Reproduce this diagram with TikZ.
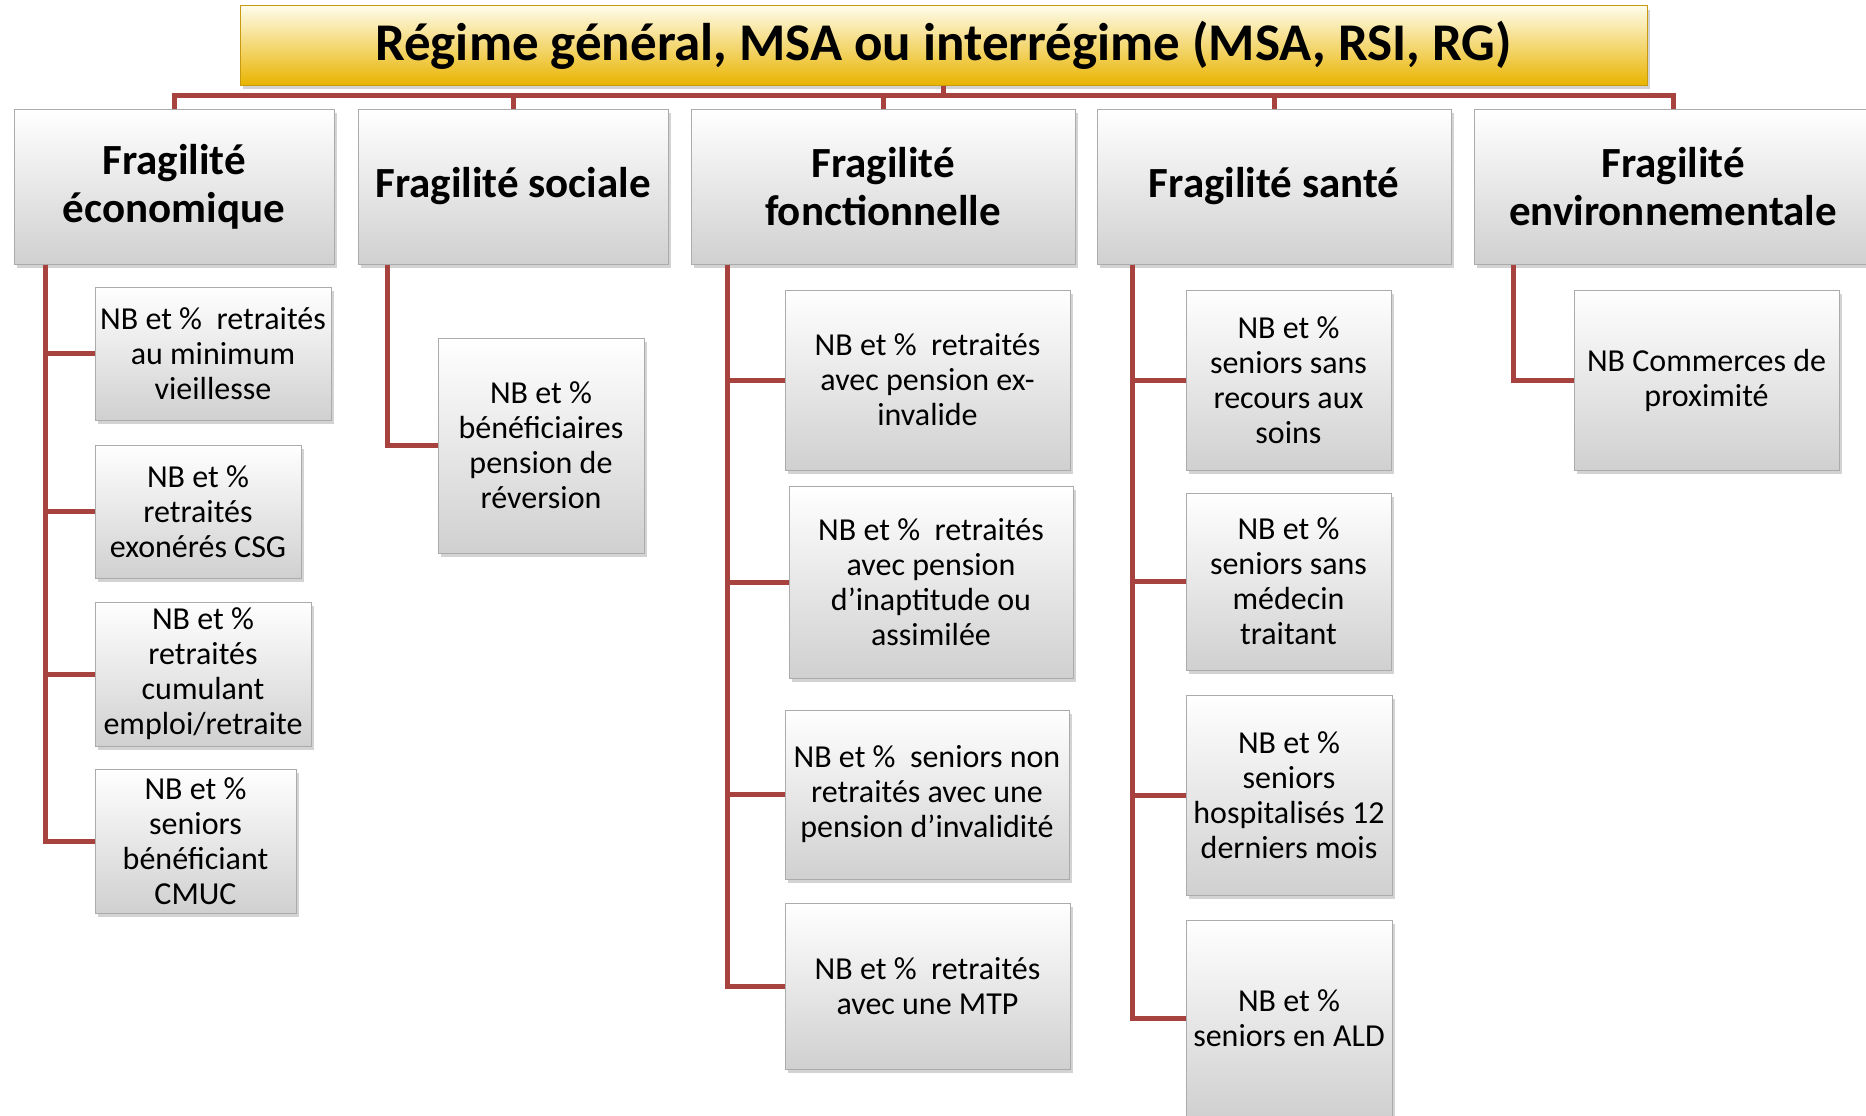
\documentclass[tikz,border=0pt]{standalone}
\usepackage{fontspec}
\setmainfont{Carlito}
\usetikzlibrary{shadows}
\definecolor{lienRouge}{HTML}{A8423F}
\definecolor{boiteGris}{HTML}{D0D0D0}
\definecolor{boiteBord}{HTML}{ABABAB}
\definecolor{titreHaut}{HTML}{FFFCEA}
\definecolor{titreMilieu}{HTML}{FFDB55}
\definecolor{titreBas}{HTML}{E9B400}
\definecolor{titreBord}{HTML}{C79A10}
\begin{document}
\begin{tikzpicture}[x=1pt,y=-1pt,
    link/.style={lienRouge,line width=5pt},
    box/.style={rectangle,draw=boiteBord,line width=1pt,top color=white,bottom color=boiteGris,
      drop shadow={shadow xshift=3pt,shadow yshift=-4pt,opacity=0.35},align=center,inner sep=2pt},
    titlebox/.style={rectangle,draw=titreBord,line width=1pt,top color=titreHaut,middle color=titreMilieu,
      bottom color=titreBas,drop shadow={shadow xshift=3pt,shadow yshift=-4pt,opacity=0.35},
      font=\fontsize{53}{60}\selectfont\bfseries},
    catbox/.style={box,font=\fontsize{43}{48}\selectfont\bfseries,minimum height=155},
    itembox/.style 2 args={box,font=\fontsize{32}{35}\selectfont,minimum width=#1,minimum height=#2}]
  \useasboundingbox (0,0) rectangle (1866,1116);

  % titre
  \node[titlebox,minimum width=1407,minimum height=79] (titre) at (943.5,45.5)
    {Régime général, MSA ou interrégime (MSA, RSI, RG)};

  % les cinq fragilites
  \node[catbox,minimum width=320] (cat1) at (174,186.5) {Fragilité\\économique};
  \node[catbox,minimum width=310] (cat2) at (513,186.5) {Fragilité sociale};
  \node[catbox,minimum width=384] (cat3) at (883,186.5) {Fragilité\\fonctionnelle};
  \node[catbox,minimum width=354] (cat4) at (1274,186.5) {Fragilité santé};
  \node[catbox,minimum width=398] (cat5) at (1673,186.5) {Fragilité\\environnementale};

  \foreach \c in {cat1,cat2,cat3,cat4,cat5}
    \draw[link] (titre.south) -- ++(0,10) -| (\c.north);

  % economique
  \node[itembox={236}{133}] (eco1) at (213,353.5) {NB et \%~ retraités\\au minimum\\vieillesse};
  \node[itembox={206}{133}] (eco2) at (198,511.5) {NB et \%\\retraités\\exonérés CSG};
  \node[itembox={216}{144}] (eco3) at (203,674) {NB et \%\\retraités\\cumulant\\emploi/retraite};
  \node[itembox={201}{144}] (eco4) at (195.5,841) {NB et \%\\seniors\\bénéficiant\\CMUC};
  \foreach \i in {eco1,eco2,eco3,eco4}
    \draw[link] ([xshift=32pt]cat1.south west) |- (\i.west);

  % sociale
  \node[itembox={206}{215}] (soc1) at (541,445.5) {NB et \%\\bénéficiaires\\pension de\\réversion};
  \draw[link] ([xshift=30pt]cat2.south west) |- (soc1.west);

  % fonctionnelle
  \node[itembox={285}{180}] (fon1) at (927.5,380) {NB et \%~ retraités\\avec pension ex-\\invalide};
  \node[itembox={284}{192}] (fon2) at (931,582) {NB et \%~ retraités\\avec pension\\d’inaptitude ou\\assimilée};
  \node[itembox={284}{169}] (fon3) at (927,794.5) {NB et \%~ seniors non\\retraités avec une\\pension d’invalidité};
  \node[itembox={285}{166}] (fon4) at (927.5,986) {NB et \%~ retraités\\avec une MTP};
  \foreach \i in {fon1,fon2,fon3,fon4}
    \draw[link] ([xshift=37pt]cat3.south west) |- (\i.west);

  % sante
  \node[itembox={205}{180}] (san1) at (1288.5,380) {NB et \%\\seniors sans\\recours aux\\soins};
  \node[itembox={205}{177}] (san2) at (1288.5,581.5) {NB et \%\\seniors sans\\médecin\\traitant};
  \node[itembox={206}{200}] (san3) at (1289,795) {NB et \%\\seniors\\hospitalisés 12\\derniers mois};
  \node[itembox={206}{197}] (san4) at (1289,1018.5) {NB et \%\\seniors en ALD};
  \foreach \i in {san1,san2,san3,san4}
    \draw[link] ([xshift=36pt]cat4.south west) |- (\i.west);

  % environnementale
  \node[itembox={265}{180}] (env1) at (1706.5,380) {NB Commerces de\\proximité};
  \draw[link] ([xshift=40pt]cat5.south west) |- (env1.west);
\end{tikzpicture}
\end{document}
